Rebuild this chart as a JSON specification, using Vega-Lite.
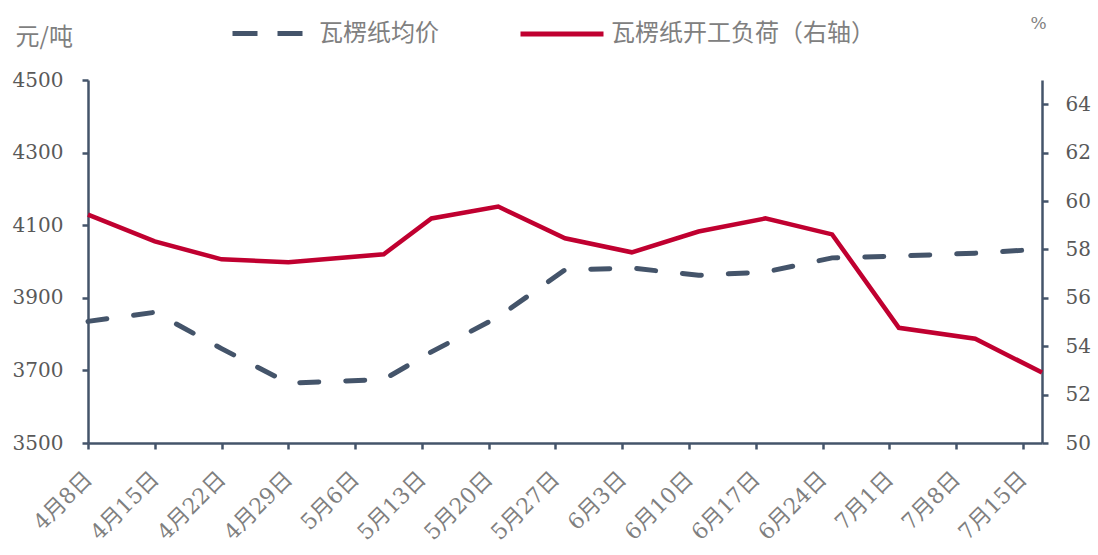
{
  "$schema": "https://vega.github.io/schema/vega-lite/v6.json",
  "width": 954,
  "height": 363,
  "autosize": "none",
  "padding": {"left": 88, "top": 80, "right": 56, "bottom": 112},
  "background": "white",
  "config": {
    "view": {"stroke": null},
    "axis": {
      "grid": false,
      "domainColor": "#44546a",
      "domainWidth": 2.5,
      "tickColor": "#44546a",
      "tickWidth": 2.5,
      "tickSize": 6,
      "labelColor": "#595959",
      "labelFont": "DejaVu Serif",
      "labelFontSize": 20
    }
  },
  "data": {
    "values": [
      {"date": "2021-04-08T00:00:00", "price": 3835, "load": 59.44},
      {"date": "2021-04-15T00:00:00", "price": 3860, "load": 58.33},
      {"date": "2021-04-22T00:00:00", "price": 3760, "load": 57.59},
      {"date": "2021-04-29T00:00:00", "price": 3665, "load": 57.47},
      {"date": "2021-05-09T00:00:00", "price": 3675, "load": 57.80},
      {"date": "2021-05-14T00:00:00", "price": 3751, "load": 59.28},
      {"date": "2021-05-21T00:00:00", "price": 3847, "load": 59.77},
      {"date": "2021-05-28T00:00:00", "price": 3977, "load": 58.46},
      {"date": "2021-06-04T00:00:00", "price": 3982, "load": 57.88},
      {"date": "2021-06-11T00:00:00", "price": 3962, "load": 58.74},
      {"date": "2021-06-18T00:00:00", "price": 3971, "load": 59.28},
      {"date": "2021-06-25T00:00:00", "price": 4010, "load": 58.62},
      {"date": "2021-07-02T00:00:00", "price": 4015, "load": 54.76},
      {"date": "2021-07-10T00:00:00", "price": 4023, "load": 54.31},
      {"date": "2021-07-17T00:00:00", "price": 4034, "load": 52.91}
    ]
  },
  "encoding": {
    "x": {
      "field": "date",
      "type": "temporal",
      "scale": {
        "domain": [{"year": 2021, "month": 4, "date": 8}, {"year": 2021, "month": 7, "date": 17}],
        "nice": false
      },
      "axis": {
        "title": null,
        "values": [
          {"year": 2021, "month": 4, "date": 8},
          {"year": 2021, "month": 4, "date": 15},
          {"year": 2021, "month": 4, "date": 22},
          {"year": 2021, "month": 4, "date": 29},
          {"year": 2021, "month": 5, "date": 6},
          {"year": 2021, "month": 5, "date": 13},
          {"year": 2021, "month": 5, "date": 20},
          {"year": 2021, "month": 5, "date": 27},
          {"year": 2021, "month": 6, "date": 3},
          {"year": 2021, "month": 6, "date": 10},
          {"year": 2021, "month": 6, "date": 17},
          {"year": 2021, "month": 6, "date": 24},
          {"year": 2021, "month": 7, "date": 1},
          {"year": 2021, "month": 7, "date": 8},
          {"year": 2021, "month": 7, "date": 15}
        ],
        "format": "%-m月%-d日",
        "labelAngle": -45,
        "labelAlign": "right",
        "labelBaseline": "middle",
        "labelPadding": 26,
        "labelFont": "DejaVu Serif, Noto Sans CJK SC",
        "labelColor": "#7f7f7f",
        "labelFontSize": 22,
        "labelOverlap": false,
        "labelFlush": false,
        "encode": {"ticks": {"update": {"y2": {"value": -6}}}}
      }
    }
  },
  "layer": [
    {
      "mark": {"type": "line", "strokeWidth": 5, "strokeDash": [19, 27], "strokeCap": "round"},
      "encoding": {
        "y": {
          "field": "price",
          "type": "quantitative",
          "scale": {"domain": [3500, 4500], "nice": false, "zero": false},
          "axis": {
            "orient": "left",
            "values": [3500, 3700, 3900, 4100, 4300, 4500],
            "format": "d",
            "labelPadding": 19,
            "title": "元/吨",
            "titleAngle": 0,
            "titleX": -73,
            "titleY": -36,
            "titleAlign": "left",
            "titleBaseline": "alphabetic",
            "titleFont": "Noto Sans CJK SC",
            "titleFontSize": 24,
            "titleFontWeight": "normal",
            "titleColor": "#7f7f7f",
            "encode": {"ticks": {"update": {"x2": {"value": 6}}}}
          }
        },
        "color": {
          "datum": "瓦楞纸均价",
          "type": "nominal",
          "scale": {"domain": ["瓦楞纸均价"], "range": ["#44546a"]},
          "legend": {
            "title": null,
            "orient": "none",
            "legendX": 142,
            "legendY": -84,
            "padding": 0,
            "symbolType": "stroke",
            "symbolSize": 4900,
            "symbolStrokeWidth": 5,
            "symbolDash": [25, 20],
            "labelOffset": 14,
            "labelFont": "Noto Sans CJK SC",
            "labelFontSize": 24,
            "labelColor": "#808080",
            "labelLimit": 500
          }
        }
      }
    },
    {
      "mark": {"type": "line", "strokeWidth": 4.5, "color": "#c00030"},
      "encoding": {
        "y": {
          "field": "load",
          "type": "quantitative",
          "scale": {"domain": [50, 65], "nice": false, "zero": false},
          "axis": {
            "orient": "right",
            "values": [50, 52, 54, 56, 58, 60, 62, 64],
            "labelPadding": 17,
            "title": "%",
            "titleAngle": 0,
            "titleX": -12,
            "titleY": -52,
            "titleAlign": "left",
            "titleBaseline": "alphabetic",
            "titleFont": "DejaVu Serif",
            "titleFontSize": 17,
            "titleFontWeight": "normal",
            "titleColor": "#7f7f7f",
            "encode": {"ticks": {"update": {"x2": {"value": -6}}}}
          }
        },
        "color": {
          "datum": "瓦楞纸开工负荷（右轴）",
          "type": "nominal",
          "scale": {"domain": ["瓦楞纸开工负荷（右轴）"], "range": ["#c00030"]},
          "legend": {
            "title": null,
            "orient": "none",
            "legendX": 430,
            "legendY": -90,
            "padding": 0,
            "symbolType": "stroke",
            "symbolSize": 6889,
            "symbolStrokeWidth": 5,
            "labelOffset": 5,
            "labelFont": "Noto Sans CJK SC",
            "labelFontSize": 24,
            "labelColor": "#808080",
            "labelLimit": 500
          }
        }
      }
    }
  ],
  "resolve": {"scale": {"y": "independent", "color": "independent"}}
}
